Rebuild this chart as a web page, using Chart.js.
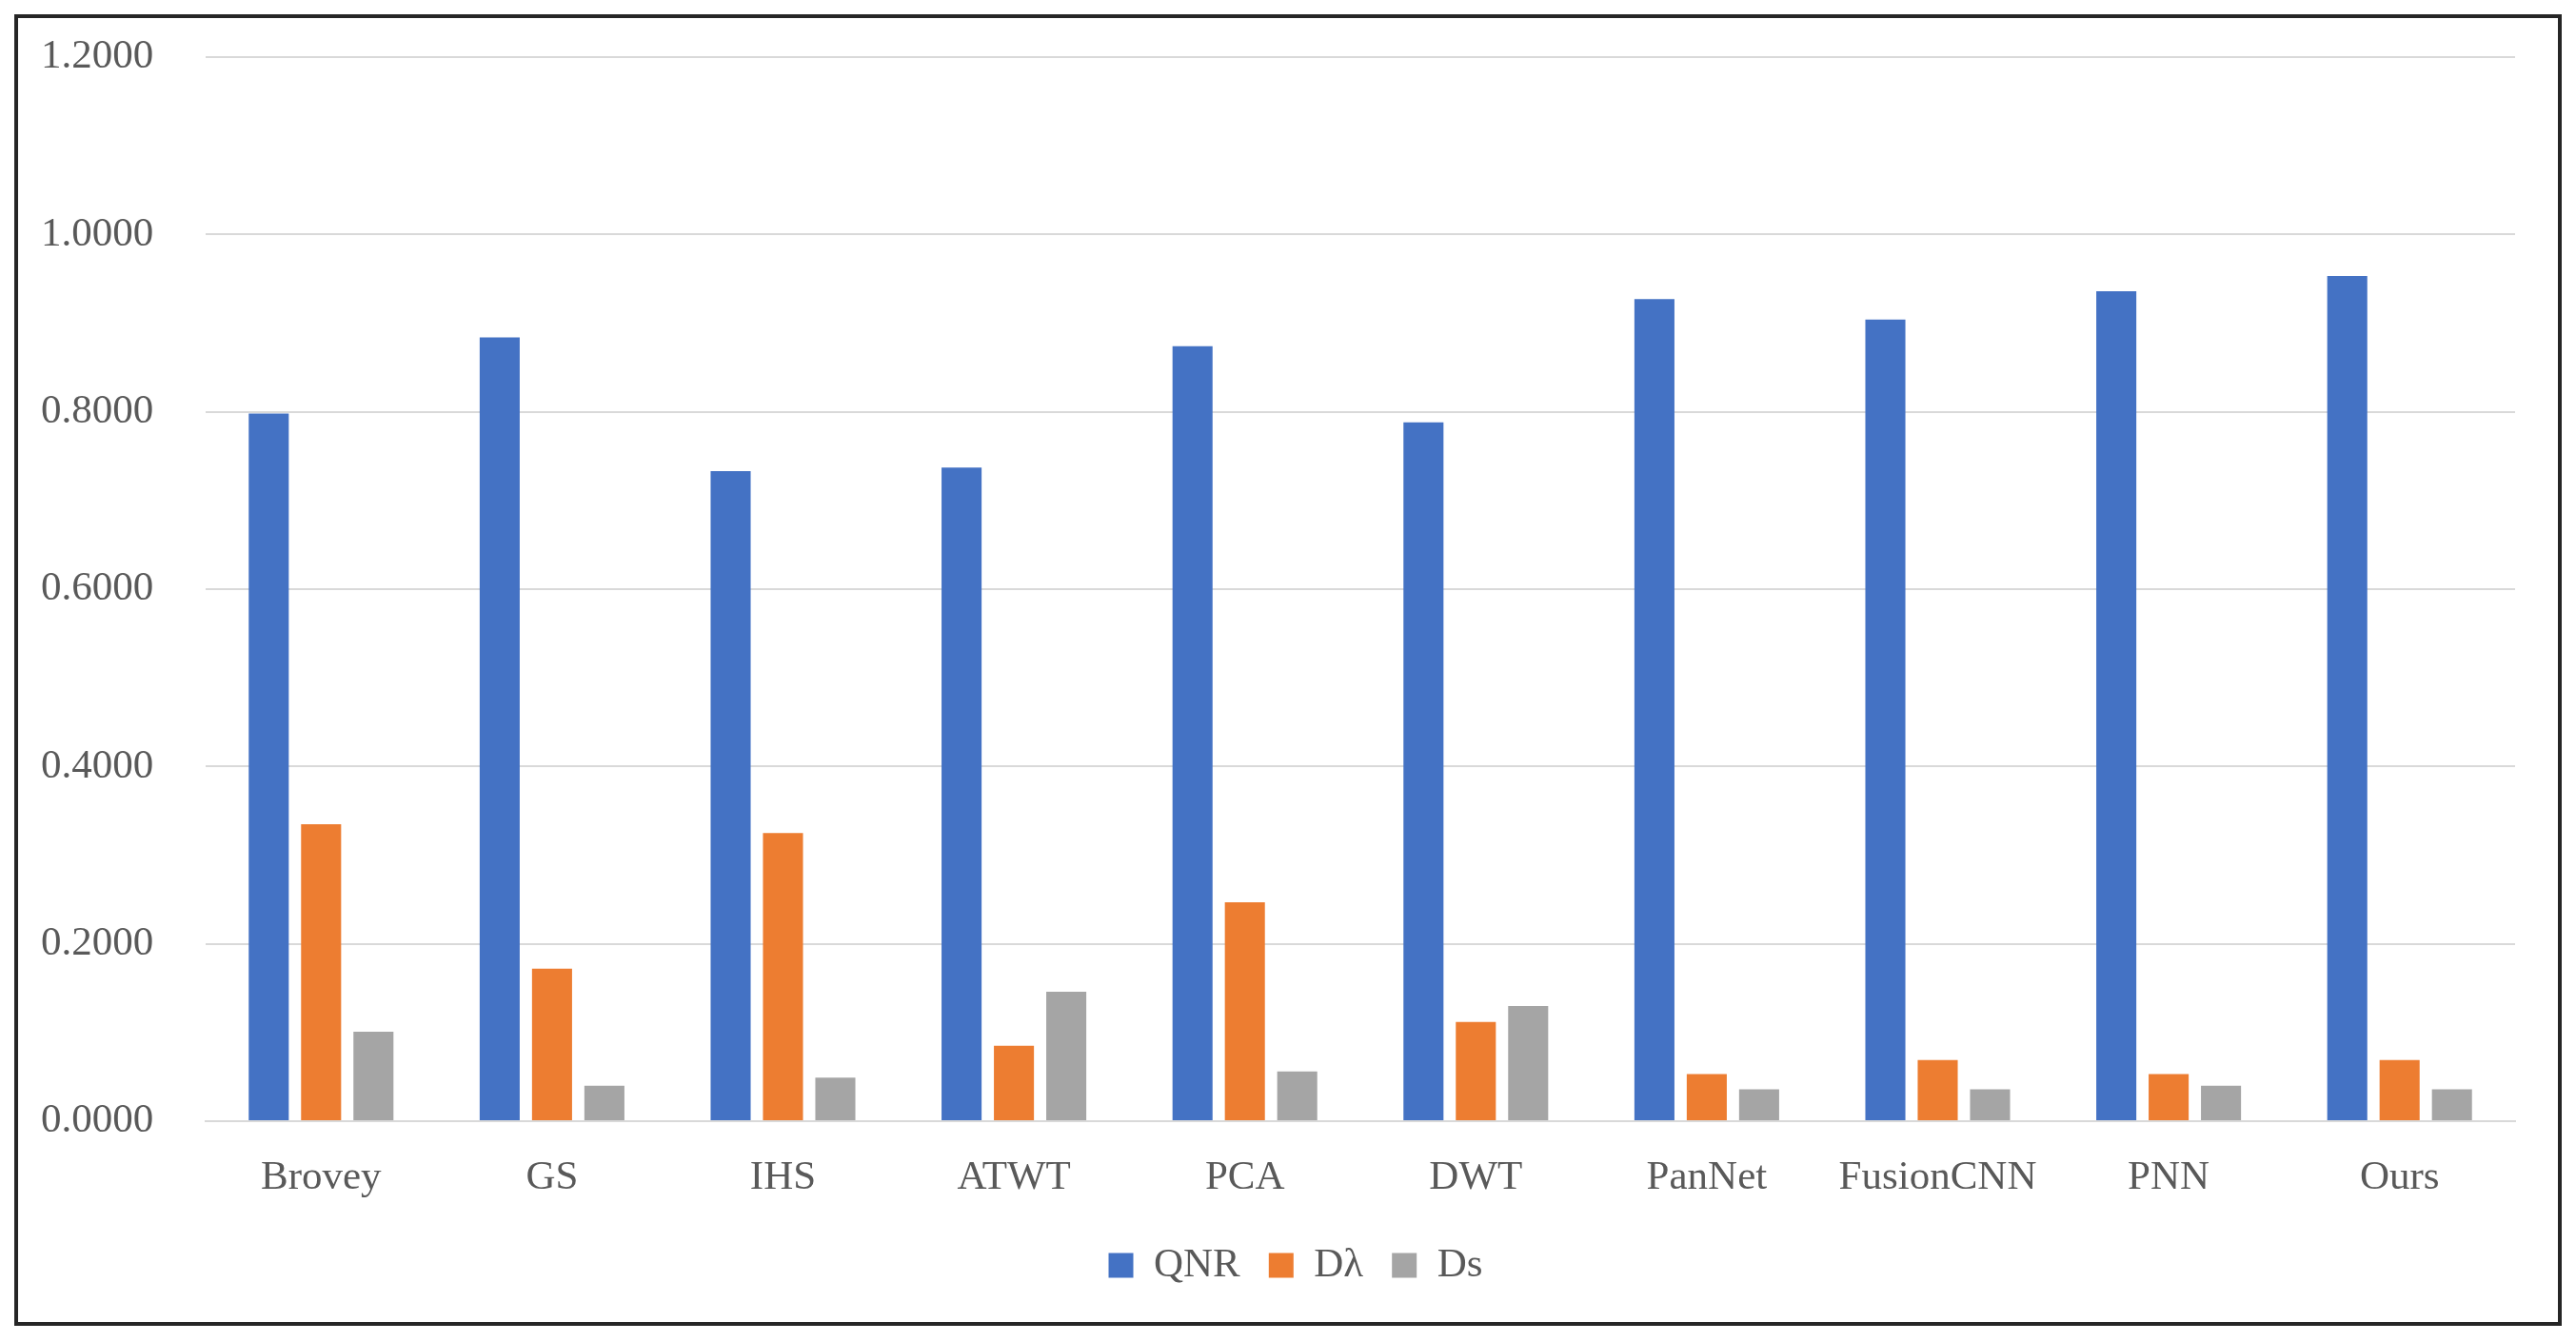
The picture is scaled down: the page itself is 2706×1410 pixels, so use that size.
<!DOCTYPE html>
<html>
<head>
<meta charset="utf-8">
<script src="https://cdn.jsdelivr.net/npm/chart.js@4/dist/chart.umd.min.js"></script>
<style>
  html, body { margin: 0; padding: 0; background: #ffffff; }
  #wrap { width: 2706px; height: 1410px; position: relative; }
</style>
</head>
<body>
<div id="wrap"><canvas id="c" width="2706" height="1410"></canvas></div>
<script>
const categories = ["Brovey", "GS", "IHS", "ATWT", "PCA", "DWT", "PanNet", "FusionCNN", "PNN", "Ours"];
const seriesNames = ["QNR", "D\u03BB", "Ds"];
const qnrValues = [0.798, 0.884, 0.733, 0.737, 0.874, 0.788, 0.927, 0.904, 0.936, 0.953];
const dLambdaValues = [0.335, 0.172, 0.325, 0.085, 0.247, 0.112, 0.053, 0.069, 0.053, 0.069];
const dsValues = [0.101, 0.040, 0.049, 0.146, 0.056, 0.130, 0.036, 0.036, 0.040, 0.036];
const yTicks = [0, 0.2, 0.4, 0.6, 0.8, 1.0, 1.2];
const colors = ["#4472C4", "#ED7D31", "#A5A5A5"];

const FONT = "'Liberation Serif', 'DejaVu Serif', serif";
const TEXT = "#595959";

const framePlugin = {
  id: 'frame',
  afterLayout(chart) {
    // centre the legend on the framed figure rather than on the padded area
    if (chart.legend) {
      chart.legend.left = 80;
      chart.legend.right = 2642;
    }
  },
  beforeDraw(chart) {
    const ctx = chart.ctx;
    ctx.save();
    ctx.fillStyle = '#ffffff';
    ctx.fillRect(0, 0, chart.width, chart.height);
    ctx.restore();
  },
  afterDraw(chart) {
    const ctx = chart.ctx;
    ctx.save();
    ctx.strokeStyle = '#262626';
    ctx.lineWidth = 4;
    ctx.strokeRect(17, 17, 2672, 1374);
    ctx.restore();
  }
};

new Chart(document.getElementById('c'), {
  type: 'bar',
  data: {
    labels: categories,
    datasets: [
      { label: seriesNames[0], data: qnrValues, backgroundColor: colors[0] },
      { label: seriesNames[1], data: dLambdaValues, backgroundColor: colors[1] },
      { label: seriesNames[2], data: dsValues, backgroundColor: colors[2] }
    ]
  },
  options: {
    responsive: false,
    animation: false,
    devicePixelRatio: 1,
    layout: { padding: { top: 60, right: 64, left: 43, bottom: 49 } },
    datasets: { bar: { categoryPercentage: 0.68, barPercentage: 0.765 } },
    plugins: {
      legend: {
        position: 'bottom',
        labels: {
          boxWidth: 26, boxHeight: 26, padding: 30,
          color: TEXT,
          font: { family: FONT, size: 43 }
        }
      },
      tooltip: { enabled: false }
    },
    scales: {
      x: {
        grid: { display: false, drawTicks: false },
        border: { display: true, color: '#D9D9D9', width: 2 },
        ticks: { color: TEXT, padding: 34, font: { family: FONT, size: 43 } },
        afterFit(scale) { scale.height = 100; }
      },
      y: {
        min: 0, max: 1.2,
        afterBuildTicks(scale) { scale.ticks = yTicks.map(v => ({ value: v })); },
        grid: { color: '#D9D9D9', lineWidth: 2, drawTicks: false },
        border: { display: false },
        ticks: {
          color: TEXT, padding: 0, crossAlign: 'far',
          font: { family: FONT, size: 43 },
          callback: v => Number(v).toFixed(4)
        },
        afterFit(scale) { scale.width = 173; }
      }
    }
  },
  plugins: [framePlugin]
});
</script>
</body>
</html>
